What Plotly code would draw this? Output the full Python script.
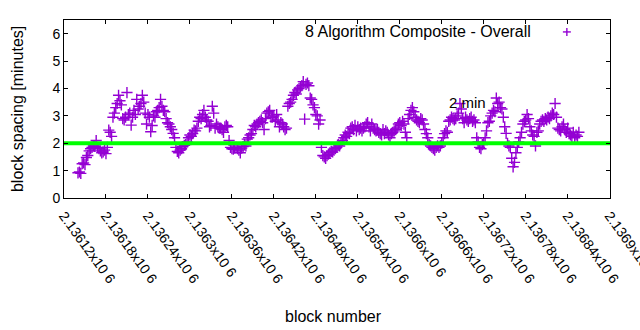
import plotly.graph_objects as go

# Block spacing (minutes) sampled every 2 blocks, starting at block 2136140
first_block = 2136140
block_step = 2
spacing = [
    0.92, 0.95, 0.90, 1.25, 1.28, 1.22, 1.48, 1.55, 1.72, 1.80,
    1.85, 1.90, 1.88, 2.10, 1.85, 1.80, 1.72, 1.65, 1.68,
    1.75, 1.62, 1.85, 2.48, 2.40, 2.25, 2.95, 3.10, 3.30,
    3.45, 3.75, 3.55, 3.40, 2.90, 2.85, 2.95, 3.85, 3.05,
    3.10, 2.66, 2.95, 3.20, 3.05, 3.60, 3.25, 3.35, 3.45, 3.75,
    3.50, 3.10, 2.70, 3.05, 2.95, 2.42, 2.65, 3.00, 2.95,
    3.15, 3.20, 3.30, 3.60, 3.35, 3.20, 3.15, 2.90, 2.75,
    2.70, 2.60, 2.50, 2.36, 2.20, 1.85, 1.70, 1.65, 1.75,
    1.80, 1.88, 1.92, 1.95, 2.05, 2.20, 2.30, 2.25, 2.35, 2.48,
    2.45, 2.55, 2.80, 2.95, 2.90, 3.05, 3.20, 2.95, 2.85,
    2.80, 2.60, 2.65, 3.35, 3.10, 2.55, 2.70, 2.60, 2.55,
    2.55, 2.50, 2.40, 2.60, 2.65, 2.60, 2.10, 1.85, 1.80,
    1.78, 1.82, 1.85, 1.80, 1.75, 1.65, 1.82, 1.88, 1.95, 1.90,
    2.15, 2.20, 2.30, 2.35, 2.50, 2.65, 2.60, 2.70, 2.75,
    2.80, 2.85, 2.75, 2.50, 2.90, 3.10, 3.15, 3.20, 2.95,
    2.95, 3.00, 2.80, 3.05, 2.85, 2.60, 2.75, 2.70, 2.60,
    2.50, 2.55, 3.35, 3.45, 3.50, 3.60, 3.75, 3.85, 3.80, 3.95,
    4.00, 4.05, 4.10, 4.25, 2.88, 4.15, 4.20, 4.10, 3.65,
    3.60, 3.40, 3.30, 3.05, 3.00, 2.70, 2.85, 1.85, 1.55,
    1.50, 1.45, 1.55, 1.60, 1.65, 1.70, 1.68, 1.75, 1.80,
    1.85, 1.95, 1.90, 2.00, 2.10, 2.20, 2.30, 2.25, 2.40, 2.35,
    2.55, 2.60, 2.50, 2.65, 2.45, 2.60, 2.50, 2.55, 2.45,
    2.55, 2.60, 2.70, 2.75, 2.60, 2.45, 2.70, 2.55, 2.50,
    2.45, 2.50, 2.40, 2.35, 2.30, 2.50, 2.35, 2.45, 2.40,
    2.30, 2.20, 2.35, 2.40, 2.45, 2.50, 2.55, 2.70, 2.75, 2.65,
    2.80, 2.70, 2.40, 2.20, 2.90, 3.05, 3.20, 3.30, 3.15,
    2.95, 2.85, 2.80, 2.75, 2.90, 2.85, 2.70, 2.50, 2.35,
    2.20, 1.95, 1.90, 1.85, 1.80, 1.75, 1.85, 1.90, 1.85,
    1.90, 2.00, 2.20, 2.35, 2.45, 2.40, 2.80, 2.85, 2.95, 2.90,
    2.85, 2.90, 3.00, 3.10, 3.45, 3.25, 2.90, 2.75, 2.95,
    2.85, 2.80, 2.90, 2.95, 2.80, 2.85, 2.75, 2.20, 2.05,
    1.85, 1.80, 1.95, 2.00, 2.20, 2.45, 2.75, 2.80, 3.00,
    3.10, 3.20, 3.15, 3.65, 3.45, 3.50, 3.30, 3.25, 2.95, 2.60,
    2.36, 2.00, 1.90, 1.85, 1.45, 1.14, 1.30, 1.65, 1.85,
    2.05, 2.20, 2.40, 2.70, 2.80, 2.85, 3.05, 2.90, 2.60,
    2.45, 2.30, 2.25, 1.90, 2.40, 2.45, 2.70, 2.80, 2.85,
    2.80, 2.90, 2.85, 2.95, 2.90, 3.00, 3.10, 3.05, 3.45, 2.95,
    2.55, 2.50, 2.45, 2.60, 2.70, 2.50, 2.40, 2.55, 2.35,
    2.30, 2.25, 2.40, 2.20, 2.30, 2.25, 2.40,
]
blocks = [first_block + i * block_step for i in range(len(spacing))]

target_minutes = 2.0
x_range = [2136120, 2136900.5]
y_range = [0, 6.5]
x_ticks = list(range(2136120, 2136901, 60))
x_tick_text = [f"{t / 1e6:.6g}x10 6" for t in x_ticks]
y_ticks = [0, 1, 2, 3, 4, 5, 6]

series_name = "8 Algorithm Composite - Overall"
purple = "#9400D3"
green = "#00FF00"
font = "Liberation Sans, Arial, sans-serif"

fig = go.Figure()
fig.add_trace(go.Scatter(
    x=blocks, y=spacing, mode="markers", name=series_name,
    marker=dict(symbol="cross-thin", size=8, line=dict(color=purple, width=1.4)),
    showlegend=False,
))
fig.add_trace(go.Scatter(
    x=x_range, y=[target_minutes, target_minutes], mode="lines",
    line=dict(color=green, width=4), showlegend=False,
))

axis_common = dict(
    showgrid=False, zeroline=False, showline=True, linecolor="black",
    linewidth=1, mirror="allticks", ticks="inside", ticklen=4,
    tickcolor="black", tickfont=dict(family=font, size=14, color="black"),
)
fig.update_xaxes(range=x_range, tickvals=x_ticks, ticktext=x_tick_text,
                 tickangle=54, ticklabelstandoff=3, ticklabeloverflow="allow",
                 **axis_common)
fig.update_yaxes(range=y_range, tickvals=y_ticks, **axis_common)

fig.add_annotation(x=2136667, y=3.5, text="2 min", showarrow=False,
                   xanchor="left", yanchor="middle",
                   font=dict(family=font, size=15, color="black"))
# key: text right-aligned, followed by the point sample
key_y = 0.933
fig.add_annotation(x=0.859, y=key_y, xref="paper", yref="paper",
                   text=series_name, showarrow=False, xanchor="right",
                   yanchor="middle",
                   font=dict(family=font, size=16, color="black"))
key_x, half_w, half_h = 0.921, 0.0073, 0.0225
fig.add_shape(type="line", xref="paper", yref="paper",
              x0=key_x - half_w, x1=key_x + half_w, y0=key_y, y1=key_y,
              line=dict(color=purple, width=1.4))
fig.add_shape(type="line", xref="paper", yref="paper",
              x0=key_x, x1=key_x, y0=key_y - half_h, y1=key_y + half_h,
              line=dict(color=purple, width=1.4))

fig.add_annotation(x=0.494, y=-0.665, xref="paper", yref="paper",
                   text="block number", showarrow=False,
                   xanchor="center", yanchor="middle",
                   font=dict(family=font, size=16, color="black"))
fig.add_annotation(x=-0.086, y=0.5, xref="paper", yref="paper",
                   text="block spacing [minutes]", showarrow=False,
                   textangle=-90, xanchor="center", yanchor="middle",
                   font=dict(family=font, size=16, color="black"))

fig.update_layout(
    width=640, height=330,
    margin=dict(l=64, r=30, t=20, b=132, autoexpand=False),
    plot_bgcolor="white", paper_bgcolor="white",
    font=dict(family=font, size=14, color="black"),
)
fig.write_html("out.html")
